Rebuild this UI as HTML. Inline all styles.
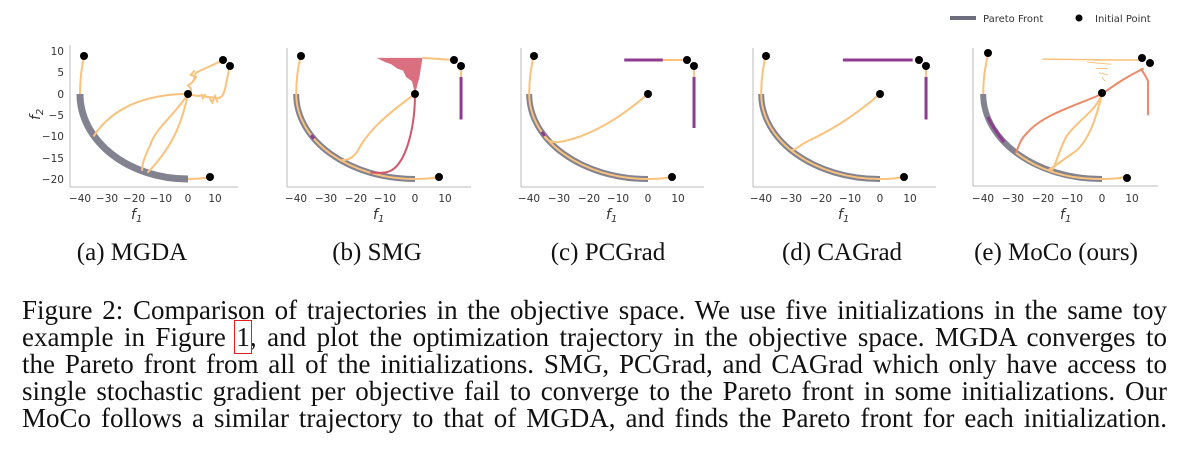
<!DOCTYPE html>
<html><head><meta charset="utf-8"><style>
html,body{margin:0;padding:0;background:#fff;width:1191px;height:465px;overflow:hidden;position:relative}
svg{display:block;position:absolute;left:0;top:0}
.t{font-family:"DejaVu Sans","Liberation Sans",sans-serif;font-size:10.5px;fill:#333}
.sc{font-family:"Liberation Serif",serif;font-size:25px;fill:#111}
.o{fill:none;stroke:#f9c27d;stroke-width:2;vector-effect:non-scaling-stroke}
.r{fill:none;stroke:#d4566a;stroke-width:2;vector-effect:non-scaling-stroke}
.p{fill:none;stroke:#8e3b90;stroke-width:3;vector-effect:non-scaling-stroke}
.f{fill:none;stroke:#6c6c7c;stroke-width:6;stroke-opacity:.85;vector-effect:non-scaling-stroke}
.fo{fill:none;stroke:#f9c27d;stroke-width:2;vector-effect:non-scaling-stroke}
.ax{stroke:#bbb;stroke-width:1}
#cap{position:absolute;left:22px;top:297px;width:1145px;font-family:"Liberation Serif",serif;font-size:27px;line-height:27px;color:#111}
#cap div{text-align:justify;text-align-last:justify;height:27px;white-space:nowrap}
#cap div.j{white-space:normal}
#cap span.b{outline:1.5px solid #e02020;outline-offset:1px}
</style></head><body>
<svg width="1191" height="465" viewBox="0 0 1191 465" xmlns="http://www.w3.org/2000/svg">
<line x1="950" y1="18" x2="976" y2="18" stroke="#6c6c7c" stroke-width="4"/>
<text x="983" y="22" class="t" style="font-size:10px">Pareto Front</text>
<circle cx="1079" cy="18" r="3.5" fill="#000"/>
<text x="1095" y="22" class="t" style="font-size:10px">Initial Point</text>

<g>
<line class="ax" x1="70" y1="45" x2="70" y2="187"/><line class="ax" x1="70" y1="187" x2="238" y2="187"/>
<g transform="translate(188,94) scale(2.7,-4.25)">
<path class="f" d="M-40 0 C-40 -11.05 -22.09 -20 0 -20" style="stroke-width:7"/>
<path class="o" d="M-38.5 9 C-39.5 6 -40 3 -40 0"/>
<path class="o" d="M0 0 C-15 0 -28 -3 -35 -10"/>
<path class="o" d="M0 0 C-5 -5 -12 -8 -14 -12 C-17 -16 -17 -17 -17 -18.1"/>
<path class="o" d="M0 0 C-2 -6 -5 -12 -15 -18.5"/>
<path class="o" d="M13 8 C10 7 6 6 3 5 C2 4 3 3 0 2 C2 1 1 0.5 0 0"/>
<path class="o" d="M15.5 6.5 C14 3 14 -1 11 -1 C8 -0.5 7 -1 5 -0.3 C3 -0.8 1 0 0 0"/>
<path class="o" d="M2 3 l1 1 l-2 0.5 l1.5 1 M8 -1 l1 -1 l1 1.5 l1 -1.5 M5 0 l0.5 -1 l1 1"/>
<path class="o" d="M8 -19.5 C5 -20 2 -20 0 -20"/>
</g>
<g fill="#000"><circle cx="84" cy="56" r="4"/><circle cx="223" cy="60" r="4"/><circle cx="230" cy="66" r="4"/><circle cx="188" cy="94" r="4"/><circle cx="210" cy="177" r="4"/></g>
<g class="t" text-anchor="end"><text x="64" y="55">10</text><text x="64" y="76">5</text><text x="64" y="98">0</text><text x="64" y="119">−5</text><text x="64" y="140">−10</text><text x="64" y="162">−15</text><text x="64" y="183">−20</text></g>
<text x="0" y="0" class="t" style="font-size:14px;font-style:italic" transform="translate(40,120) rotate(-90)">f<tspan font-size="10" dy="3">2</tspan></text>
<g class="t" text-anchor="middle"><text x="80" y="202">−40</text><text x="107" y="202">−30</text><text x="134" y="202">−20</text><text x="161" y="202">−10</text><text x="188" y="202">0</text><text x="215" y="202">10</text></g>
<text x="131" y="219" class="t" style="font-size:14px;font-style:italic">f<tspan font-size="10" dy="3">1</tspan></text>
</g>

<g>
<line class="ax" x1="287" y1="48" x2="287" y2="187"/><line class="ax" x1="287" y1="187" x2="471" y2="187"/>
<g transform="translate(415,94) scale(2.97,-4.25)">
<path class="f" d="M-40 0 C-40 -11.05 -22.09 -20 0 -20"/>
<path class="fo" d="M-40 0 C-40 -11.05 -22.09 -20 0 -20"/>
<path class="o" d="M-38.5 9 C-39.5 6 -40 3 -40 0"/>
<path d="M-13 8.5 L2.5 8.5 L1.5 4 L0 0 L-1 3 L-3 4 L-4 5.5 L-6 6 L-8 7 L-10 7.5 Z" fill="#d4566a" opacity=".85"/>
<path class="o" d="M2.5 8.5 L13 8"/>
<path class="o" d="M15.5 6.5 L15.5 4"/>
<path class="p" d="M15.5 4 L15.5 -6"/>
<path class="o" d="M0 0 C-10 -5 -16 -9 -19 -13 C-21 -15.5 -23 -15.5 -25 -15.6"/>
<path class="r" d="M0 0 C0 -8 -3 -16 -8 -18 C-10 -18.7 -12 -18.6 -15 -18.5"/>
<path class="p" d="M-35 -9.7 L-34 -10.5"/>
<path class="o" d="M8 -19.5 C5 -20 2 -20 0 -20"/>
</g>
<g fill="#000"><circle cx="301" cy="56" r="4"/><circle cx="454" cy="60" r="4"/><circle cx="461" cy="66" r="4"/><circle cx="415" cy="94" r="4"/><circle cx="439" cy="177" r="4"/></g>
<g class="t" text-anchor="middle"><text x="296" y="202">−40</text><text x="326" y="202">−30</text><text x="356" y="202">−20</text><text x="385" y="202">−10</text><text x="415" y="202">0</text><text x="445" y="202">10</text></g>
<text x="373" y="219" class="t" style="font-size:14px;font-style:italic">f<tspan font-size="10" dy="3">1</tspan></text>
</g>

<g>
<line class="ax" x1="521" y1="48" x2="521" y2="187"/><line class="ax" x1="521" y1="187" x2="704" y2="187"/>
<g transform="translate(648,94) scale(2.97,-4.25)">
<path class="f" d="M-40 0 C-40 -11.05 -22.09 -20 0 -20"/>
<path class="fo" d="M-40 0 C-40 -11.05 -22.09 -20 0 -20"/>
<path class="o" d="M-38.5 9 C-39.5 6 -40 3 -40 0"/>
<path class="p" d="M-8 8 L5 8"/>
<path class="o" d="M5 8 L13 8"/>
<path class="o" d="M15.5 6.5 L15.5 4"/>
<path class="p" d="M15.5 4 L15.5 -8"/>
<path class="o" d="M0 0 C-10 -6 -18 -9 -25 -10.5 C-30 -11.5 -33 -12 -35.3 -9.6"/>
<path class="p" d="M-35.8 -8.9 L-34.8 -9.9"/>
<path class="o" d="M8 -19.5 C5 -20 2 -20 0 -20"/>
</g>
<g fill="#000"><circle cx="534" cy="56" r="4"/><circle cx="687" cy="60" r="4"/><circle cx="694" cy="66" r="4"/><circle cx="648" cy="94" r="4"/><circle cx="672" cy="177" r="4"/></g>
<g class="t" text-anchor="middle"><text x="529" y="202">−40</text><text x="559" y="202">−30</text><text x="589" y="202">−20</text><text x="618" y="202">−10</text><text x="648" y="202">0</text><text x="678" y="202">10</text></g>
<text x="606" y="219" class="t" style="font-size:14px;font-style:italic">f<tspan font-size="10" dy="3">1</tspan></text>
</g>

<g>
<line class="ax" x1="753" y1="48" x2="753" y2="187"/><line class="ax" x1="753" y1="187" x2="936" y2="187"/>
<g transform="translate(880,94) scale(2.97,-4.25)">
<path class="f" d="M-40 0 C-40 -11.05 -22.09 -20 0 -20"/>
<path class="fo" d="M-40 0 C-40 -11.05 -22.09 -20 0 -20"/>
<path class="o" d="M-38.5 9 C-39.5 6 -40 3 -40 0"/>
<path class="p" d="M-12.5 8 L11 8"/>
<path class="o" d="M15.5 6.5 L15.5 4"/>
<path class="p" d="M15.5 4 L15.5 -6"/>
<path class="o" d="M0 0 C-10 -6 -18 -9 -24 -11 C-27 -12 -29 -13.5 -30 -13.2"/>
<path class="o" d="M8 -19.5 C5 -20 2 -20 0 -20"/>
</g>
<g fill="#000"><circle cx="766" cy="56" r="4"/><circle cx="919" cy="60" r="4"/><circle cx="926" cy="66" r="4"/><circle cx="880" cy="94" r="4"/><circle cx="904" cy="177" r="4"/></g>
<g class="t" text-anchor="middle"><text x="761" y="202">−40</text><text x="791" y="202">−30</text><text x="821" y="202">−20</text><text x="850" y="202">−10</text><text x="880" y="202">0</text><text x="910" y="202">10</text></g>
<text x="838" y="219" class="t" style="font-size:14px;font-style:italic">f<tspan font-size="10" dy="3">1</tspan></text>
</g>

<g>
<line class="ax" x1="973" y1="48" x2="973" y2="186"/><line class="ax" x1="973" y1="186" x2="1158" y2="186"/>
<g transform="translate(1102,94) scale(2.97,-4.25)">
<path class="f" d="M-40 0 C-40 -11.05 -22.09 -20 0 -20"/>
<path class="fo" d="M-29 -13.8 C-24 -16.5 -18 -18.5 -10 -19.5 C-6 -19.9 -3 -20 0 -20"/>
<path class="p" d="M-38.5 -5.4 C-37 -7.5 -35 -9.5 -33 -11.3"/>
<path class="o" d="M-38.5 9 C-39.5 6 -40 3 -40 0"/>
<path class="o" d="M13 8 L-3 8 M5 8 L-20 8.2" style="stroke-width:1.5"/>
<path class="o" d="M-5 7.5 L3 7 M-2 6 L2 6 M-1 5 L2 4.5 M0 4 L1 3" style="stroke-width:1"/>
<path class="r" style="stroke:#ea8a68" d="M14 6 C8 4 4 2 0 0 C-10 -3 -20 -5 -25 -9 C-28 -11 -28 -12.5 -29 -13.8"/>
<path class="r" style="stroke:#ea8a68" d="M13 6 C14 5 15 4 15.5 3 L15.5 -5"/>
<path class="o" d="M0 0 C-2 -4 -8 -6 -12 -10 C-15 -14 -15 -16 -17 -18.1"/>
<path class="o" d="M0 0 C-2 -6 -5 -12 -10 -14 C-14 -16 -16 -17 -18 -17.9"/>
<path class="o" d="M8 -19.5 C5 -20 2 -20 0 -20"/>
</g>
<g fill="#000"><circle cx="988" cy="53" r="4"/><circle cx="1142" cy="58" r="4"/><circle cx="1150" cy="63" r="4"/><circle cx="1102" cy="93" r="4"/><circle cx="1127" cy="178" r="4"/></g>
<g class="t" text-anchor="middle"><text x="983" y="202">−40</text><text x="1013" y="202">−30</text><text x="1043" y="202">−20</text><text x="1072" y="202">−10</text><text x="1102" y="202">0</text><text x="1132" y="202">10</text></g>
<text x="1060" y="219" class="t" style="font-size:14px;font-style:italic">f<tspan font-size="10" dy="3">1</tspan></text>
</g>

<g class="sc" text-anchor="middle">
<text x="132" y="260">(a) MGDA</text>
<text x="377" y="260">(b) SMG</text>
<text x="608" y="260">(c) PCGrad</text>
<text x="842" y="260">(d) CAGrad</text>
<text x="1056" y="260">(e) MoCo (ours)</text>
</g>
</svg>
<div id="cap">
<div class="j">Figure 2: Comparison of trajectories in the objective space. We use five initializations in the same toy</div>
<div class="j">example in Figure <span class="b">1</span>, and plot the optimization trajectory in the objective space. MGDA converges to</div>
<div class="j">the Pareto front from all of the initializations. SMG, PCGrad, and CAGrad which only have access to</div>
<div class="j">single stochastic gradient per objective fail to converge to the Pareto front in some initializations. Our</div>
<div class="j">MoCo follows a similar trajectory to that of MGDA, and finds the Pareto front for each initialization.</div>
</div>
</body></html>
